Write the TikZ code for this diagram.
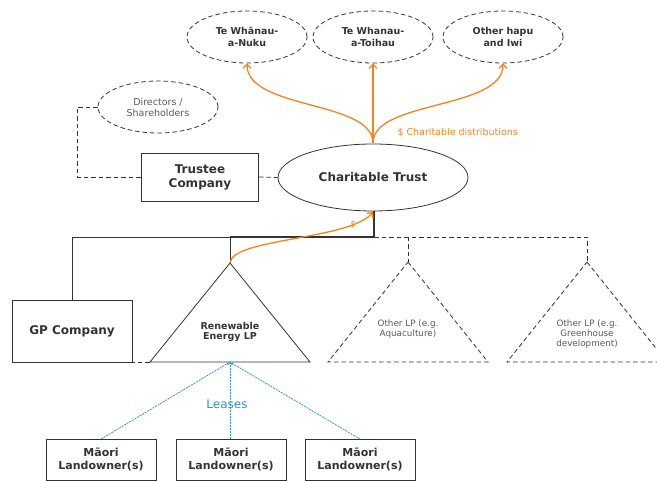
\documentclass[tikz,border=0pt]{standalone}
\usepackage{fontspec}
\setmainfont{DejaVu Sans}
\usetikzlibrary{shapes.geometric,arrows.meta}
\definecolor{orng}{HTML}{F5821F}
\definecolor{blu}{HTML}{3A8FD6}
\definecolor{dk}{HTML}{333333}
\definecolor{gr}{HTML}{5A5A5A}
\tikzset{
  ln/.style={draw=dk, line width=0.8pt},
  dsh/.style={draw=dk, line width=0.8pt, dash pattern=on 4.5pt off 3pt},
  dell/.style={ellipse, dsh, inner sep=0pt, align=center, text=dk},
  bigb/.style={font=\bfseries\fontsize{12}{14}\selectfont, text=dk, align=center},
  smb/.style={font=\bfseries\fontsize{9.5}{11.5}\selectfont, text=dk, align=center},
  grt/.style={font=\fontsize{9.5}{11}\selectfont, text=gr, align=center},
  sqbox/.style={rectangle, ln, inner sep=0pt, align=center},
  orarrow/.style={draw=orng, line width=1.3pt, -{Straight Barb[length=4pt,width=8pt,line width=1.3pt]}},
  lease/.style={draw=blu, line width=0.8pt, dash pattern=on 2pt off 1pt}
}
\begin{document}
\begin{tikzpicture}[x=1pt,y=-1pt]
\useasboundingbox (0,0) rectangle (657,481);

% top ellipses
\node[dell, smb, minimum width=120pt, minimum height=52pt] (nuku) at (247,37) {Te Whānau-\\a-Nuku};
\node[dell, smb, minimum width=120pt, minimum height=52pt] (toihau) at (373,37) {Te Whanau-\\a-Toihau};
\node[dell, smb, minimum width=120pt, minimum height=52pt] (hapu) at (503,37) {Other hapu\\and Iwi};

% directors
\node[dell, grt, minimum width=120pt, minimum height=52pt] (dir) at (158,107) {Directors /\\Shareholders};

% trustee company
\node[sqbox, bigb, minimum width=117pt, minimum height=48pt] (trustee) at (200,177) {Trustee\\Company};

% charitable trust
\node[ellipse, ln, inner sep=0pt, bigb, minimum width=190pt, minimum height=67pt] (ct) at (373,177.5) {Charitable Trust};

% dashed links
\coordinate (dl) at (77,107);
\draw[dsh] (dir.west) -- (dl) |- (trustee.west);
\draw[dsh] (trustee.east) -- (ct.west);

% orange distributions
\coordinate (ctt) at (373,143);
\draw[orarrow] (ctt) .. controls (373,100) and (247,110) .. (nuku.south);
\draw[orarrow] (ctt) -- (toihau.south);
\draw[orarrow] (ctt) .. controls (373,100) and (503,110) .. (hapu.south);
\node[font=\fontsize{9.5}{11}\selectfont, text=orng, anchor=west] (cdlab) at (394,133) {\$ Charitable distributions};

% GP company
\node[sqbox, bigb, minimum width=120pt, minimum height=62pt] (gp) at (72,331) {GP Company};

% triangles
\coordinate (rapex) at (230,263);
\coordinate (rl) at (150,362);
\coordinate (rr) at (310,362);
\draw[ln] (rapex) -- (rr) -- (rl) -- cycle;
\node[smb, font=\bfseries\fontsize{9.5}{10.5}\selectfont] (rlp) at (230,332) {Renewable\\Energy LP};

\coordinate (a1apex) at (408,262);
\coordinate (a1l) at (328,362);
\coordinate (a1r) at (488,362);
\draw[dsh] (a1apex) -- (a1r) -- (a1l) -- cycle;
\node[grt, font=\fontsize{8.8}{10}\selectfont] (aq) at (408,329) {Other LP (e.g.\\Aquaculture)};

\coordinate (a2apex) at (587,262);
\coordinate (a2l) at (507,362);
\coordinate (a2r) at (667,362);
\begin{scope}
\clip (0,0) rectangle (657,481);
\draw[dsh] (a2apex) -- (a2r) -- (a2l) -- cycle;
\end{scope}
\node[grt, font=\fontsize{8.8}{10}\selectfont] (gh) at (587,334) {Other LP (e.g.\\Greenhouse\\development)};

% tree lines
\coordinate (j0) at (72,237);
\coordinate (j1) at (230,237);
\coordinate (j2) at (374,237);
\coordinate (j3) at (408,237);
\coordinate (j4) at (587,237);
\draw[ln] (gp.north) -- (j0) -- (j1);
\draw[ln, line width=1.1pt] (j1) -- (j2) -- (ct.south -| j2);
\draw[ln] (rapex) -- (j1);
\draw[dsh] (j2) -- (j4) -- (a2apex);
\draw[dsh] (j3) -- (a1apex);
\draw[dsh] (115,362) -- (rl);

% orange $ arrow
\draw[orarrow] (rapex) .. controls (232,238) and (350,240) .. (373,212);
\node[font=\fontsize{9}{10}\selectfont, text=orng, rotate=-15] (dol) at (353,225) {\$};

% landowners
\node[sqbox, font=\bfseries\fontsize{11}{13}\selectfont, text=dk, minimum width=110pt, minimum height=41pt] (m1) at (101,460) {Māori\\Landowner(s)};
\node[sqbox, font=\bfseries\fontsize{11}{13}\selectfont, text=dk, minimum width=110pt, minimum height=41pt] (m2) at (231,460) {Māori\\Landowner(s)};
\node[sqbox, font=\bfseries\fontsize{11}{13}\selectfont, text=dk, minimum width=110pt, minimum height=41pt] (m3) at (360,460) {Māori\\Landowner(s)};

\coordinate (rb) at (230,362);
\draw[lease] (m1.north) -- (rb);
\draw[lease, -{Straight Barb[length=2.5pt,width=5pt]}] (m2.north -| rb) -- (rb);
\draw[lease] (m3.north) -- (rb);
\node[font=\fontsize{12}{14}\selectfont, text=blu, inner sep=0.5pt] (leases) at (227,404) {Leases};
\end{tikzpicture}
\end{document}
